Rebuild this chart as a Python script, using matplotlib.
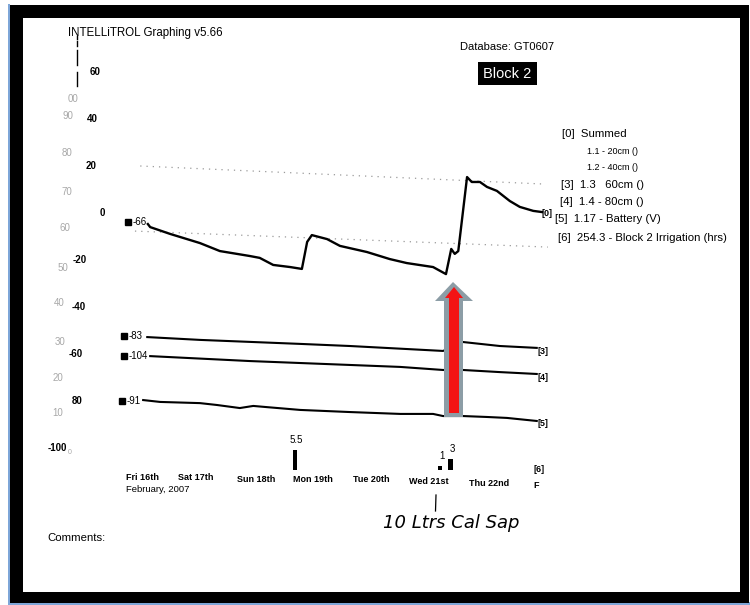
import matplotlib
matplotlib.use('Agg')
import matplotlib.pyplot as plt
from matplotlib.patches import Polygon, Rectangle
import matplotlib.transforms as mtransforms

plt.rcParams['font.family'] = ['Liberation Sans', 'DejaVu Sans']

# ---------------- data (days since Fri 16th 00:00) ----------------
summed_day = [0.39, 0.43, 0.77, 1.28, 1.62, 2.13, 2.30, 2.53, 2.82, 3.02, 3.11, 3.19,
              3.45, 3.67, 4.13, 4.52, 4.81, 5.26, 5.48, 5.57, 5.63, 5.69, 5.84, 5.92,
              6.06, 6.18, 6.35, 6.57, 6.74, 6.97, 7.12]
summed_val = [-4.7, -6.0, -8.9, -12.8, -16.2, -18.3, -19.1, -22.1, -23.0, -23.8, -12.3, -9.4,
              -11.1, -14.0, -16.6, -19.6, -21.3, -23.0, -26.0, -15.3, -17.4, -16.2, 15.3, 13.2,
              13.2, 11.1, 9.4, 5.1, 2.6, 0.9, 0.4]

s60_day = [0.38, 1.28, 2.99, 3.84, 5.43, 5.77, 6.40, 7.03]
s60_val = [-52.8, -54.0, -55.7, -56.6, -58.7, -54.9, -56.6, -57.4]

s80_day = [0.43, 2.13, 4.70, 5.43, 5.77, 6.40, 7.03]
s80_val = [-60.9, -63.0, -65.5, -66.8, -66.8, -67.7, -68.5]

batt_day = [0.31, 0.60, 1.28, 1.57, 1.96, 2.19, 2.42, 2.99, 3.84, 4.70, 5.26, 5.43,
            5.77, 6.18, 6.52, 7.03]
batt_val = [-79.6, -80.4, -80.9, -81.7, -83.0, -82.1, -82.6, -83.8, -84.7, -85.5, -85.5, -86.4,
            -86.4, -86.8, -87.2, -88.5]

irr_day = [2.90, 5.38, 5.56]
irr_hrs = [5.5, 1, 3]
irr_labels = ['5.5', '1', '3']

refhi_day = [0.26, 7.17]
refhi_val = [20.0, 12.3]
reflo_day = [0.17, 7.22]
reflo_val = [-7.7, -14.5]

start_day = [0.05, -0.02, -0.02, -0.05]
start_val = [-3.8, -52.3, -60.9, -80.0]
start_labels = ['-66', '-83', '-104', '-91']

left_vals = [60, 40, 20, 0, -20, -40, -60, -80, -100]
left_texts = ['60', '40', '20', '0', '-20', '-40', '-60', '80', '-100']
gray_texts = ['00', '90', '80', '70', '60', '50', '40', '30', '20', '10']

day_labels = ['Fri 16th', 'Sat 17th', 'Sun 18th', 'Mon 19th', 'Tue 20th',
              'Wed 21st', 'Thu 22nd', 'F']

legend_lines = ['[0]  Summed', '1.1 - 20cm ()', '1.2 - 40cm ()', '[3]  1.3   60cm ()',
                '[4]  1.4 - 80cm ()', '[5]  1.17 - Battery (V)',
                '[6]  254.3 - Block 2 Irrigation (hrs)']
end_labels = ['[0]', '[3]', '[4]', '[5]', '[6]']

# ---------------- figure ----------------
W, H = 750, 605
fig = plt.figure(figsize=(7.5, 6.05), dpi=100)
fig.patch.set_facecolor('white')

bg = fig.add_axes([0, 0, 1, 1], zorder=0)
bg.set_xlim(0, W); bg.set_ylim(H, 0); bg.axis('off')
# frame
bg.add_patch(Rectangle((8, 4), 2, 601, color='#7ea6d8', lw=0))
bg.add_patch(Rectangle((8, 602), 742, 3, color='#7ea6d8', lw=0))
bg.add_patch(Rectangle((10, 5), 739, 598, color='black', lw=0))
bg.add_patch(Rectangle((23, 18), 717, 574, color='white', lw=0))

rect = [125 / W, (H - 448) / H, 410 / W, 376 / H]
ax = fig.add_axes(rect, zorder=2)
ax.set_xlim(0, 7); ax.set_ylim(-100, 60); ax.axis('off')
ax.patch.set_alpha(0)

ax2 = fig.add_axes(rect, zorder=3, sharex=ax)
ax2.set_ylim(6.11, 110.56); ax2.axis('off')
ax2.patch.set_alpha(0)

ov = fig.add_axes([0, 0, 1, 1], zorder=5)
ov.set_xlim(0, W); ov.set_ylim(H, 0); ov.axis('off')
ov.patch.set_alpha(0)

# reference dotted lines
for dx, dy in [(refhi_day, refhi_val), (reflo_day, reflo_val)]:
    ax.plot(dx, dy, color='#9a9a9a', lw=0.9, ls=(0, (1, 4)), clip_on=False)

# series
ax.plot(summed_day, summed_val, color='black', lw=1.7, clip_on=False,
        solid_joinstyle='round')
for dx, dy in [(s60_day, s60_val), (s80_day, s80_val), (batt_day, batt_val)]:
    ax.plot(dx, dy, color='black', lw=1.5, clip_on=False)

# start markers with labels
ax.plot(start_day, start_val, ls='none', marker='s', ms=4.5, color='black', clip_on=False)
for d, v, t in zip(start_day, start_val, start_labels):
    ax.annotate(t, (d, v), xytext=(3.5, 0), textcoords='offset points',
                ha='left', va='center', fontsize=7, annotation_clip=False)

# irrigation bars
ax2.bar(irr_day, irr_hrs, width=[0.068, 0.068, 0.085], color='black', clip_on=False)
for d, h, t in zip(irr_day, irr_hrs, irr_labels):
    ax2.annotate(t, (d, h), xytext=(1, 4), textcoords='offset points',
                 ha='center', va='bottom', fontsize=7, annotation_clip=False)

# left axis labels (bold column)
blend = mtransforms.blended_transform_factory(ov.transData, ax.transData)
left_x = [100, 98, 97, 105, 87, 86, 83, 82, 67]
for v, t, x in zip(left_vals, left_texts, left_x):
    ov.text(x, v, t, transform=blend, ha='right', va='center', fontsize=7,
            fontweight='bold')
# gray column
gray_x = [78, 73, 72, 72, 70, 68, 65, 65, 63, 63]
gray_y = [99, 116, 153, 192, 228, 268, 303, 342, 378, 413]
for t, x, y in zip(gray_texts, gray_x, gray_y):
    ov.text(x, y, t, ha='right', va='center', fontsize=7, color='#a8a8a8')
ov.text(70, 453, '0', ha='center', va='center', fontsize=5, color='#a8a8a8')

# small broken vertical bar near top-left
for y0, y1 in [(36, 39), (41, 46), (50, 65), (72, 86)]:
    ov.plot([77, 77], [y0, y1], color='black', lw=1)

# titles
ov.text(68, 33, 'INTELLiTROL Graphing v5.66', ha='left', va='center', fontsize=8.3)
ov.text(460, 47, 'Database: GT0607', ha='left', va='center', fontsize=8)
ov.add_patch(Rectangle((478, 62), 59, 23, color='black', lw=0))
ov.text(507.5, 74, 'Block 2', ha='center', va='center', fontsize=10.5, color='white')

# legend
leg_pos = [(562, 134, 8.2), (587, 152, 6.5), (587, 167, 6.5), (561, 185, 8.2),
           (560, 202, 8.2), (555, 219, 8.2), (558, 238, 8.2)]
for t, (x, y, fs) in zip(legend_lines, leg_pos):
    ov.text(x, y, t, ha='left', va='center', fontsize=fs)

# right end labels
end_pos = [(542, 213), (538, 351), (538, 377), (538, 424), (533, 470)]
for t, (x, y) in zip(end_labels, end_pos):
    ov.text(x, y, t, ha='left', va='center', fontsize=6.5, fontweight='bold')

# day labels
day_x = [126, 178, 237, 293, 353, 409, 469, 533]
day_y = [478, 478, 479, 480, 480, 481, 484, 486]
for t, x, y in zip(day_labels, day_x, day_y):
    ov.text(x, y, t, ha='left', va='center', fontsize=6.5, fontweight='bold')
ov.text(126, 489, 'February, 2007', ha='left', va='center', fontsize=6.8)

ov.text(47, 538, 'Comments:', ha='left', va='center', fontsize=8.2)

# arrow
gray_arrow = [(453, 282), (473, 301), (463, 301), (463, 417), (444, 417), (444, 301), (435, 301)]
red_arrow = [(454, 287), (463, 298), (459, 298), (459, 413), (449, 413), (449, 298), (445, 298)]
ov.add_patch(Polygon(gray_arrow, closed=True, color='#8c9da6', lw=0))
ov.add_patch(Polygon(red_arrow, closed=True, color='#f41414', lw=0))

# handwritten note
ov.plot([436, 435.5], [495, 511], color='black', lw=0.9)
ov.text(383, 523, '10 Ltrs Cal Sap', ha='left', va='center', fontsize=13,
        fontfamily='DejaVu Sans', fontstyle='italic', fontweight='light')

fig.savefig('out.png', dpi=100, facecolor='white')
